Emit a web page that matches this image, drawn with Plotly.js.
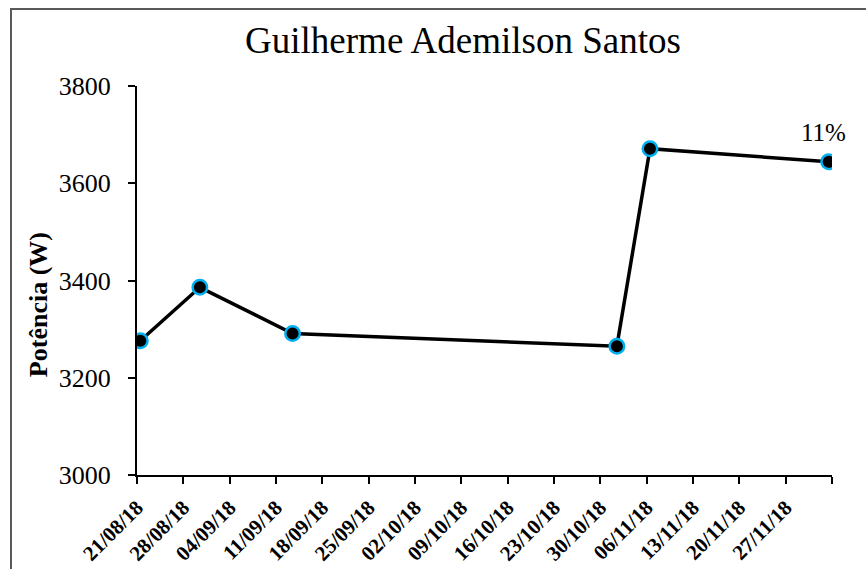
<!DOCTYPE html>
<html>
<head>
<meta charset="utf-8">
<script src="https://cdn.plot.ly/plotly-3.0.1.min.js"></script>
<style>
  html, body { margin: 0; padding: 0; background: #fff; }
  #wrap { position: relative; width: 866px; height: 569px; overflow: hidden; }
  #chart { width: 866px; height: 569px; }
  #frame { position: absolute; left: 10px; top: 8px; right: -5px; bottom: -5px;
           border-top: 2px solid #595959; border-left: 2px solid #595959; pointer-events: none; }
</style>
</head>
<body>
<div id="wrap">
  <div id="chart"></div>
  <div id="frame"></div>
</div>
<script>
// Data
const dates = ['2018-08-21 12:00', '2018-08-30 12:00', '2018-09-13 12:00', '2018-11-01 12:00', '2018-11-06 12:00', '2018-12-03 12:00'];
const potencia = [3276, 3386, 3291, 3265, 3671, 3644];
const tickDates = ['2018-08-21', '2018-08-28', '2018-09-04', '2018-09-11', '2018-09-18', '2018-09-25', '2018-10-02',
                   '2018-10-09', '2018-10-16', '2018-10-23', '2018-10-30', '2018-11-06', '2018-11-13', '2018-11-20',
                   '2018-11-27', '2018-12-04'];
const tickLabels = ['21/08/18', '28/08/18', '04/09/18', '11/09/18', '18/09/18', '25/09/18', '02/10/18',
                    '09/10/18', '16/10/18', '23/10/18', '30/10/18', '06/11/18', '13/11/18', '20/11/18',
                    '27/11/18', ''];
const lastLabel = '11%';
const chartTitle = 'Guilherme Ademilson Santos';
const yTitle = 'Potência (W)';

const serif = 'Liberation Serif, Times New Roman, serif';

const trace = {
  x: dates,
  y: potencia,
  type: 'scatter',
  mode: 'lines+markers',
  line: { color: '#000000', width: 3.5 },
  marker: { color: '#000000', size: 14.5, line: { color: '#00B0F0', width: 2.5 } },
  hoverinfo: 'x+y'
};

const layout = {
  width: 866,
  height: 569,
  margin: { l: 137, r: 34, t: 86, b: 94 },
  paper_bgcolor: '#ffffff',
  plot_bgcolor: '#ffffff',
  showlegend: false,
  title: {
    text: chartTitle,
    font: { family: serif, size: 37, color: '#000000' },
    xref: 'paper', x: 0.469, xanchor: 'center',
    yref: 'container', y: 0.93, yanchor: 'middle'
  },
  xaxis: {
    type: 'date',
    range: [tickDates[0], tickDates[tickDates.length - 1]],
    tickmode: 'array',
    tickvals: tickDates,
    ticktext: tickLabels,
    tickangle: -45,
    ticks: 'outside',
    ticklen: 7,
    tickwidth: 2,
    tickcolor: '#000000',
    ticklabelstandoff: 3,
    showline: true,
    linecolor: '#000000',
    linewidth: 2,
    showgrid: false,
    zeroline: false,
    tickfont: { family: serif, size: 21, color: '#000000', weight: 'bold' }
  },
  yaxis: {
    range: [3000, 3800],
    tickmode: 'linear',
    tick0: 3000,
    dtick: 200,
    ticks: 'outside',
    ticklen: 7,
    tickwidth: 2,
    tickcolor: '#000000',
    ticklabelstandoff: 12,
    showline: true,
    linecolor: '#000000',
    linewidth: 2,
    showgrid: false,
    zeroline: false,
    tickfont: { family: serif, size: 26, color: '#000000' }
  },
  annotations: [
    {
      x: dates[dates.length - 1],
      y: potencia[potencia.length - 1],
      xref: 'x', yref: 'y',
      text: lastLabel,
      showarrow: false,
      xanchor: 'center', yanchor: 'middle',
      xshift: -5, yshift: 29,
      font: { family: serif, size: 25, color: '#000000' }
    },
    {
      x: -0.1424, y: 0.4367,
      xref: 'paper', yref: 'paper',
      text: '<b>' + yTitle + '</b>',
      textangle: -90,
      showarrow: false,
      xanchor: 'center', yanchor: 'middle',
      font: { family: serif, size: 26, color: '#000000' }
    }
  ]
};

Plotly.newPlot('chart', [trace], layout, { displayModeBar: false, staticPlot: true });
</script>
</body>
</html>
